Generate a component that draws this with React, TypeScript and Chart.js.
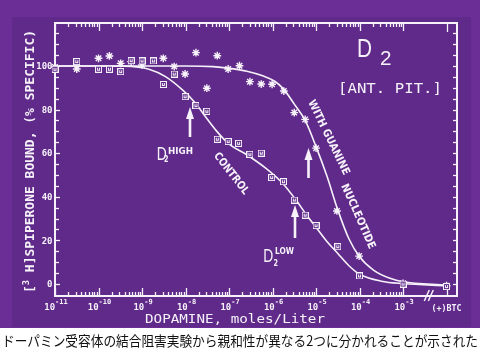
import React, { useEffect, useRef } from "react";
import { Chart, registerables } from "chart.js";

Chart.register(...registerables);

const OUTER = "#6b2d96";
const INNER = "#5f2a89";
const WHITE = "#f7f2fa";
const MONO = '"DejaVu Sans Mono", monospace';
const SANS = '"DejaVu Sans", sans-serif';
const LIB = '"Liberation Sans", sans-serif';
const CJK = '"Noto Sans CJK JP", sans-serif';

// axis ranges (log10 of molar dopamine; % specific binding)
const xMin = -11;
const xMax = -1.76;
const yMin = -5.5;
const yMax = 119.7;

// tick labels
const xTickValues = [-11, -10, -9, -8, -7, -6, -5, -4, -3];
const xTickExponents = ["-11", "-10", "-9", "-8", "-7", "-6", "-5", "-4", "-3"];
const btcX = -2;
const btcLabel = "(+)BTC";
const yTickValues = [0, 20, 40, 60, 80, 100];

// CONTROL measured points (squares)
const controlX = [-11, -10.5, -10, -9.75, -9.49, -9.25, -9, -8.74, -8.51, -8.26, -8.01, -7.76, -7.51, -7.27, -7.02, -6.78, -6.52, -6.26, -6.02, -5.75, -5.5, -5.25, -5, -4.5, -4, -3, -2];
const controlY = [98.5, 102, 98.5, 98.5, 97.4, 102.4, 102.3, 102.3, 91.5, 96.3, 85.9, 81.8, 79.2, 66.4, 65.3, 64.5, 59.5, 60, 48.8, 46.9, 38.5, 31.6, 26.8, 17.1, 3.7, 0, -1.2];

// WITH GUANINE NUCLEOTIDE measured points (stars)
const guanineX = [-11, -10.5, -10, -9.75, -9.49, -9.25, -9, -8.51, -8.26, -8.01, -7.76, -7.51, -7.27, -7.02, -6.76, -6.52, -6.26, -6.01, -5.74, -5.5, -5.25, -5, -4.52, -4.01, -3, -2];
const guanineY = [99.5, 98.6, 103.5, 104.6, 101.2, 102, 100.5, 103.5, 99.7, 96.3, 106.1, 89.8, 104.7, 98.6, 100.1, 92.8, 91.7, 91.6, 88.5, 78.6, 75.5, 62.3, 33.5, 12.8, 0.3, -0.8];

// fitted curves
const controlCurveX = [-11, -10, -9.4, -8.84, -8.46, -8.07, -7.77, -7.54, -7.28, -6.99, -6.61, -6.15, -5.77, -5.46, -5.23, -5, -4.75, -4.5, -4.25, -4, -3.5, -3, -2];
const controlCurveY = [100, 100, 99.9, 98.5, 95.1, 89, 82.9, 76.7, 70, 64, 59.5, 53, 46.2, 38.5, 32, 26, 19.5, 14, 8.5, 4.5, 1.3, 0.2, -0.8];
const guanineCurveX = [-11, -8, -7.36, -6.98, -6.59, -6.21, -5.95, -5.75, -5.5, -5.25, -5, -4.75, -4.5, -4.25, -4, -3.68, -3.3, -3, -2];
const guanineCurveY = [100, 100, 99.7, 98.9, 97.6, 95.4, 93, 89.5, 82.5, 75, 63, 49.5, 34, 21, 12.5, 6.4, 2.6, 1, -0.5];

const caption = "ドーパミン受容体の結合阻害実験から親和性が異なる2つに分かれることが示された";

const zip = (xs: number[], ys: number[]) => xs.map((x, i) => ({ x, y: ys[i] }));

function makeSquare() {
  const c = document.createElement("canvas");
  c.width = 7;
  c.height = 7;
  const g = c.getContext("2d")!;
  g.fillStyle = INNER;
  g.fillRect(0, 0, 7, 7);
  g.strokeStyle = WHITE;
  g.lineWidth = 1;
  g.strokeRect(0.5, 0.5, 6, 6);
  g.fillStyle = WHITE;
  g.fillRect(2, 2, 1, 3);
  g.fillRect(4, 2, 1, 3);
  g.fillRect(2, 4, 3, 1);
  return c;
}

type Run = { t: string; f: string; dy?: number };

function drawRuns(
  ctx: CanvasRenderingContext2D,
  rs: Run[],
  cx: number,
  cy: number,
  width?: number,
  angle = 0,
  bOff = 0
) {
  ctx.save();
  let total = 0;
  const ws = rs.map((r) => {
    ctx.font = r.f;
    const w = ctx.measureText(r.t).width;
    total += w;
    return w;
  });
  ctx.translate(cx, cy);
  ctx.rotate(angle);
  if (width) ctx.scale(width / total, 1);
  ctx.textAlign = "left";
  ctx.textBaseline = "alphabetic";
  let x = -total / 2;
  rs.forEach((r, i) => {
    ctx.font = r.f;
    ctx.fillText(r.t, x, bOff + (r.dy || 0));
    x += ws[i];
  });
  ctx.restore();
}

function fitText(ctx: CanvasRenderingContext2D, t: string, x0: number, x1: number, baseline: number, f: string) {
  drawRuns(ctx, [{ t, f }], (x0 + x1) / 2, baseline, x1 - x0);
}

function arrow(ctx: CanvasRenderingContext2D, x: number, tip: number, tail: number) {
  ctx.fillRect(x - 1.3, tip + 10, 2.6, tail - tip - 10);
  ctx.beginPath();
  ctx.moveTo(x, tip);
  ctx.lineTo(x - 4, tip + 12);
  ctx.lineTo(x + 4, tip + 12);
  ctx.closePath();
  ctx.fill();
}

const overlay = {
  id: "overlay",
  beforeDatasetsDraw(chart: any) {
    const { ctx, chartArea: a } = chart;
    const xs = chart.scales.x;
    const ys = chart.scales.y;
    ctx.save();
    ctx.strokeStyle = WHITE;
    ctx.fillStyle = WHITE;
    ctx.lineWidth = 2;
    ctx.strokeRect(a.left, a.top, a.right - a.left, a.bottom - a.top);
    ctx.lineWidth = 1.3;
    const seg = (x1: number, y1: number, x2: number, y2: number) => {
      ctx.beginPath();
      ctx.moveTo(x1, y1);
      ctx.lineTo(x2, y2);
      ctx.stroke();
    };
    const first = xTickValues[0];
    const last = xTickValues[xTickValues.length - 1];
    for (let d = first; d <= last; d++) {
      for (let m = 1; m <= 9; m++) {
        if (d === last && m > 1) break;
        const px = Math.round(xs.getPixelForValue(d + Math.log10(m))) + 0.5;
        const len = m === 1 ? 8 : 4;
        seg(px, a.bottom, px, a.bottom - len);
        seg(px, a.top, px, a.top + len);
      }
    }
    const bx = Math.round(xs.getPixelForValue(btcX)) + 0.5;
    seg(bx, a.bottom, bx, a.bottom - 11);
    seg(bx, a.top, bx, a.top + 9);
    for (let v = 0; v <= 115; v += 5) {
      const py = Math.round(ys.getPixelForValue(v)) + 0.5;
      seg(a.left, py, a.left + (v % 20 === 0 ? 5 : 4), py);
      seg(a.right, py, a.right - 4, py);
    }
    // axis break
    ctx.lineWidth = 1.5;
    const brk = xs.getPixelForValue(-2.42);
    seg(brk - 4, a.bottom + 5, brk + 1, a.bottom - 6);
    seg(brk, a.bottom + 5, brk + 5, a.bottom - 6);
    ctx.restore();
  },
  afterDraw(chart: any) {
    const { ctx, chartArea: a } = chart;
    const xs = chart.scales.x;
    const ys = chart.scales.y;
    ctx.save();
    ctx.fillStyle = WHITE;
    // y tick labels
    ctx.font = `bold 9px ${MONO}`;
    ctx.textAlign = "right";
    ctx.textBaseline = "alphabetic";
    yTickValues.forEach((v) => {
      ctx.fillText(String(v), a.left - 2.5, ys.getPixelForValue(v) + 3.3);
    });
    // x tick labels
    xTickValues.forEach((v, i) => {
      drawRuns(
        ctx,
        [
          { t: "10", f: `bold 9px ${MONO}` },
          { t: xTickExponents[i], f: `bold 7px ${MONO}`, dy: -5.5 },
        ],
        xs.getPixelForValue(v) + 1,
        309.5
      );
    });
    drawRuns(ctx, [{ t: btcLabel, f: `bold 8px ${MONO}` }], xs.getPixelForValue(btcX), 311, 30);
    // axis titles
    fitText(ctx, "DOPAMINE, moles/Liter", 145, 325, 322.5, `12px ${MONO}`);
    drawRuns(
      ctx,
      [
        { t: "[", f: `bold 12px ${MONO}` },
        { t: "3", f: `bold 8px ${MONO}`, dy: -5 },
        { t: " H]SPIPERONE BOUND, (% SPECIFIC)", f: `bold 12px ${MONO}` },
      ],
      30,
      161.5,
      263,
      -Math.PI / 2,
      4.3
    );
    // panel title
    fitText(ctx, "D", 357, 372, 56.7, `25px ${LIB}`);
    fitText(ctx, "2", 380, 391.5, 65, `21px ${LIB}`);
    fitText(ctx, "[ANT. PIT.]", 338, 442, 93, `13.5px ${MONO}`);
    // curve labels
    drawRuns(ctx, [{ t: "WITH GUANINE", f: `bold 11px ${SANS}` }], 329.5, 137, 82, (64 * Math.PI) / 180, 4);
    drawRuns(ctx, [{ t: "NUCLEOTIDE", f: `bold 11px ${SANS}` }], 359, 216, 70, (66 * Math.PI) / 180, 4);
    drawRuns(ctx, [{ t: "CONTROL", f: `bold 11px ${SANS}` }], 232, 173, 50, (52 * Math.PI) / 180, 4);
    // D2 HIGH / LOW
    fitText(ctx, "D", 156.7, 166.7, 160, `18px ${LIB}`);
    fitText(ctx, "2", 164, 168.5, 162.3, `bold 9.5px ${SANS}`);
    fitText(ctx, "HIGH", 168, 193, 154, `bold 9.5px ${SANS}`);
    fitText(ctx, "D", 263.3, 273.3, 261.7, `18px ${LIB}`);
    fitText(ctx, "2", 273.5, 278, 265.7, `bold 9.5px ${SANS}`);
    fitText(ctx, "LOW", 275, 294, 254, `bold 9.5px ${SANS}`);
    // arrows
    arrow(ctx, 190, 107, 137);
    arrow(ctx, 295, 205, 238);
    arrow(ctx, 308.5, 148, 178);
    // caption below the slide
    ctx.fillStyle = "#111111";
    fitText(ctx, caption, 2, 478, 345.5, `14px ${CJK}`);
    ctx.restore();
  },
};

export default function App() {
  const ref = useRef<HTMLCanvasElement>(null);
  useEffect(() => {
    const square = makeSquare();
    const chart = new Chart(ref.current!, {
      type: "scatter",
      data: {
        datasets: [
          {
            label: "control",
            data: zip(controlX, controlY),
            pointStyle: square as any,
            pointRadius: 3.5,
            clip: false as any,
          },
          {
            label: "guanine",
            data: zip(guanineX, guanineY),
            pointStyle: "star",
            pointRadius: 3.9,
            borderColor: WHITE,
            backgroundColor: WHITE,
            borderWidth: 1.4,
            clip: false as any,
          },
          {
            type: "line",
            label: "control fit",
            data: zip(controlCurveX, controlCurveY),
            borderColor: WHITE,
            borderWidth: 1.6,
            pointRadius: 0,
            cubicInterpolationMode: "monotone",
            fill: false,
            clip: false as any,
          } as any,
          {
            type: "line",
            label: "guanine fit",
            data: zip(guanineCurveX, guanineCurveY),
            borderColor: WHITE,
            borderWidth: 1.6,
            pointRadius: 0,
            cubicInterpolationMode: "monotone",
            fill: false,
            clip: false as any,
          } as any,
        ],
      },
      options: {
        animation: false,
        responsive: false,
        events: [],
        layout: { padding: { left: 55, right: 23, top: 23, bottom: 61 } },
        scales: {
          x: { type: "linear", min: xMin, max: xMax, display: false },
          y: { type: "linear", min: yMin, max: yMax, display: false },
        },
        plugins: { legend: { display: false }, tooltip: { enabled: false } },
      },
      plugins: [overlay as any],
    });
    return () => chart.destroy();
  }, []);

  return (
    <div
      style={{
        position: "fixed",
        left: 0,
        top: 0,
        width: 480,
        height: 357,
        background: "#ffffff",
        overflow: "hidden",
      }}
    >
      <div style={{ position: "absolute", left: 0, top: 0, width: 480, height: 328, background: OUTER }} />
      <div style={{ position: "absolute", left: 12, top: 17, width: 459, height: 310, background: INNER }} />
      <canvas ref={ref} width={480} height={357} style={{ position: "absolute", left: 0, top: 0 }} />
    </div>
  );
}
